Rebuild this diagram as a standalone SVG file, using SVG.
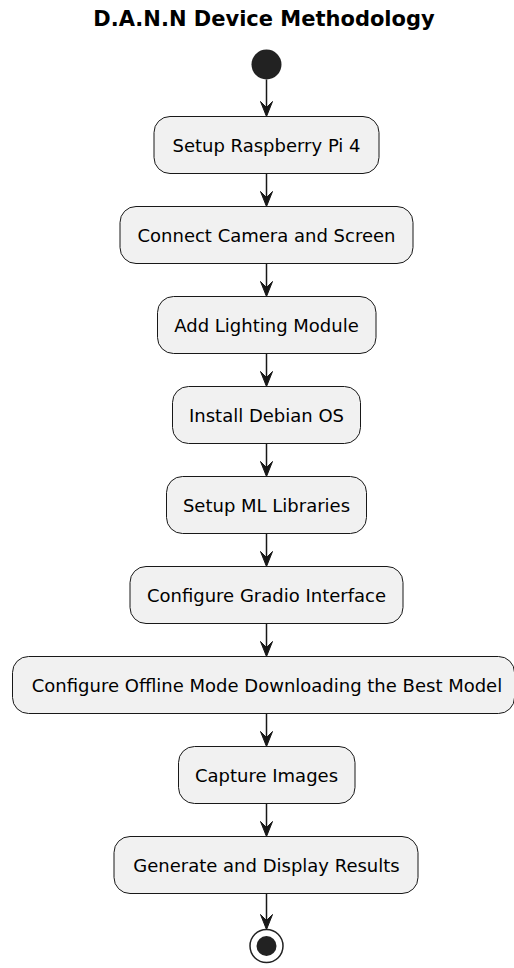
<svg xmlns="http://www.w3.org/2000/svg" width="514" height="968" viewBox="0 0 514 968">
<style>
.box{fill:#F1F1F1;stroke:#181818;stroke-width:1}
.lbl{font-family:"DejaVu Sans",sans-serif;font-size:18px;fill:#000;text-anchor:middle}
.ttl{font-family:"DejaVu Sans",sans-serif;font-size:21px;font-weight:bold;fill:#000;text-anchor:middle}
.ln{stroke:#181818;stroke-width:1.5;fill:none}
.ah{fill:#181818;stroke:#181818;stroke-width:1}
</style>
<defs>
<path id="ah" class="ah" d="M-6,-15 L0,0 L6,-15 L0,-9 Z"/>
</defs>
<rect width="514" height="968" fill="#FFFFFF"/>
<text class="ttl" x="264" y="25.5">D.A.N.N Device Methodology</text>
<g id="start"><circle cx="266.5" cy="64.5" r="15" fill="#222222"/></g>
<g id="n1"><rect class="box" x="154" y="116.5" width="225" height="57" rx="16"/><text class="lbl" x="266.5" y="151.5">Setup Raspberry Pi 4</text></g>
<g id="n2"><rect class="box" x="120" y="206.5" width="293" height="57" rx="16"/><text class="lbl" x="266.5" y="241.5">Connect Camera and Screen</text></g>
<g id="n3"><rect class="box" x="157.5" y="296.5" width="218.5" height="57" rx="16"/><text class="lbl" x="266.5" y="331.5">Add Lighting Module</text></g>
<g id="n4"><rect class="box" x="172.5" y="386.5" width="188" height="57" rx="16"/><text class="lbl" x="266.5" y="421.5">Install Debian OS</text></g>
<g id="n5"><rect class="box" x="166.5" y="476.5" width="200" height="57" rx="16"/><text class="lbl" x="266.5" y="511.5">Setup ML Libraries</text></g>
<g id="n6"><rect class="box" x="130" y="566.5" width="273" height="57" rx="16"/><text class="lbl" x="266.5" y="601.5">Configure Gradio Interface</text></g>
<g id="n7"><rect class="box" x="12.5" y="656.5" width="502" height="57" rx="16"/><text class="lbl" x="267" y="691.5">Configure Offline Mode Downloading the Best Model</text></g>
<g id="n8"><rect class="box" x="178.5" y="746.5" width="176.5" height="57" rx="16"/><text class="lbl" x="266.5" y="781.5">Capture Images</text></g>
<g id="n9"><rect class="box" x="114" y="836.5" width="304" height="57" rx="16"/><text class="lbl" x="266.5" y="871.5">Generate and Display Results</text></g>
<g id="end"><circle cx="266.5" cy="946" r="16.5" fill="none" stroke="#222222" stroke-width="1.5"/><circle cx="266.5" cy="946" r="10" fill="#222222"/></g>
<g id="connectors">
<line class="ln" x1="266.5" y1="79.5" x2="266.5" y2="115"/><use href="#ah" x="266.5" y="116.5"/>
<line class="ln" x1="266.5" y1="173.5" x2="266.5" y2="205"/><use href="#ah" x="266.5" y="206.5"/>
<line class="ln" x1="266.5" y1="263.5" x2="266.5" y2="295"/><use href="#ah" x="266.5" y="296.5"/>
<line class="ln" x1="266.5" y1="353.5" x2="266.5" y2="385"/><use href="#ah" x="266.5" y="386.5"/>
<line class="ln" x1="266.5" y1="443.5" x2="266.5" y2="475"/><use href="#ah" x="266.5" y="476.5"/>
<line class="ln" x1="266.5" y1="533.5" x2="266.5" y2="565"/><use href="#ah" x="266.5" y="566.5"/>
<line class="ln" x1="266.5" y1="623.5" x2="266.5" y2="655"/><use href="#ah" x="266.5" y="656.5"/>
<line class="ln" x1="266.5" y1="713.5" x2="266.5" y2="745"/><use href="#ah" x="266.5" y="746.5"/>
<line class="ln" x1="266.5" y1="803.5" x2="266.5" y2="835"/><use href="#ah" x="266.5" y="836.5"/>
<line class="ln" x1="266.5" y1="893.5" x2="266.5" y2="928"/><use href="#ah" x="266.5" y="929.5"/>
</g>
</svg>
